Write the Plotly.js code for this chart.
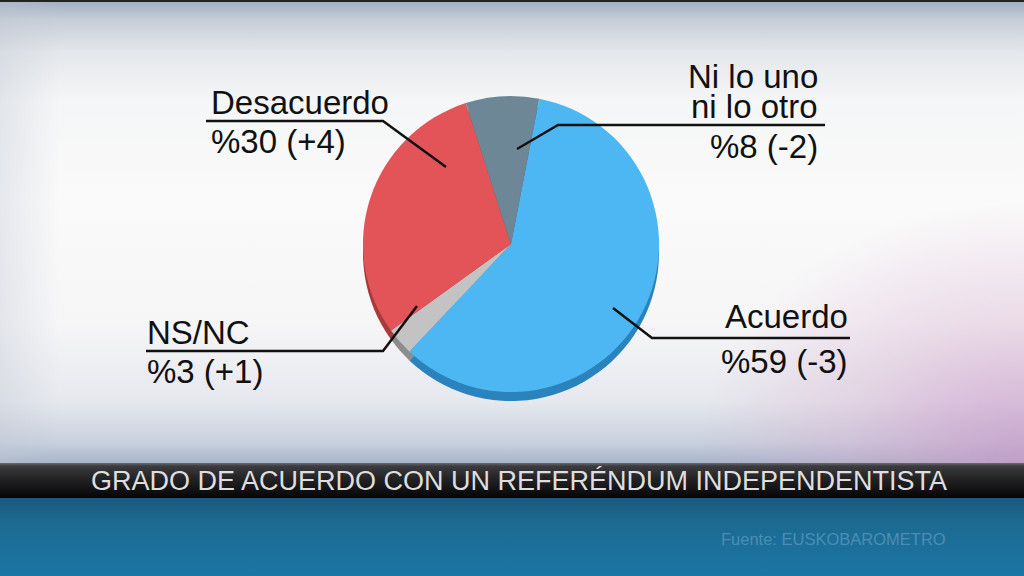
<!DOCTYPE html>
<html><head><meta charset="utf-8">
<script src="https://cdn.plot.ly/plotly-3.0.1.min.js"></script>
<style>
html,body{margin:0;padding:0;width:1024px;height:576px;overflow:hidden;background:#222;}
#wrap{position:relative;width:1024px;height:576px;}
#bgTop{position:absolute;left:0;top:2px;width:1024px;height:461px;
 background:
  radial-gradient(ellipse 330px 260px at 100% 100%, rgba(200,150,200,0.75), rgba(215,170,205,0.35) 55%, rgba(225,190,210,0) 100%),
  linear-gradient(to right, rgba(190,198,210,0.35) 0px, rgba(255,255,255,0) 60px),
  linear-gradient(to bottom,#a3b0c2 0px,#c6ced8 18px,#e4e7eb 50px,#f5f6f7 100px,#fafafa 200px,#f6f6f7 320px,#e6e8ee 400px,#c9d1de 440px,#a7b5ca 461px);}
#bar{position:absolute;left:0;top:463px;width:1024px;height:35px;
 background:linear-gradient(to bottom,#6a6a70 0px,#3c3c40 3px,#262628 14px,#101012 28px,#050505 35px);}
#bgBot{position:absolute;left:0;top:498px;width:1024px;height:78px;
 background:linear-gradient(to bottom,#1b5a7c 0px,#1c6a93 25px,#1b76a3 78px);}
#chart{position:absolute;left:0;top:0;width:1024px;height:576px;}
</style></head>
<body><div id="wrap"><div id="bgTop"></div><div id="bar"></div><div id="bgBot"></div><div id="chart"></div></div>
<script>
// ---- data ----
const labels = ['Acuerdo', 'NS/NC', 'Desacuerdo', 'Ni lo uno ni lo otro'];
const values = [59, 3, 30, 8];
const changes = ['-3', '+1', '+4', '-2'];
const colors = ['#4db7f4', '#c3c3c3', '#e25457', '#6e8797'];
const sideColors = ['#2a83bd', '#8c8c8c', '#a83a3c', '#4c606e'];
const titleText = 'GRADO DE ACUERDO CON UN REFERÉNDUM INDEPENDENTISTA';
const sourceText = 'Fuente: EUSKOBAROMETRO';

// ---- helpers (pixel -> paper) ----
const W = 1024, H = 576;
const px = x => x / W;
const py = y => 1 - y / H;
const valText = i => '%' + values[i] + ' (' + changes[i] + ')';

const cx = 511, cy = 244, d = 296;
function dom(offY) {
  return {x: [px(cx - d / 2), px(cx + d / 2)], y: [py(cy + offY + d / 2), py(cy + offY - d / 2)]};
}

const common = {type: 'pie', labels: labels, values: values, sort: false, direction: 'clockwise',
  rotation: 11, textinfo: 'none', hoverinfo: 'skip', showlegend: false};

const traces = [
  Object.assign({}, common, {domain: dom(9), marker: {colors: sideColors, line: {width: 0}}}),
  Object.assign({}, common, {domain: dom(0), marker: {colors: colors, line: {width: 0}}})
];

const F = 'Liberation Sans, Arial, sans-serif';
const fs = 33;
function ann(text, x, baseline, anchor, h) {
  const a = {text: text, x: px(x), y: py(baseline - 0.33 * fs), xref: 'paper', yref: 'paper',
    xanchor: anchor, yanchor: 'middle', showarrow: false, font: {family: F, size: fs, color: '#111'}};
  if (h) a.height = h;
  return a;
}
const annotations = [
  ann(labels[2], 209, 113, 'left'),
  ann(valText(2), 209, 152, 'left'),
  ann('Ni lo uno', 820, 87, 'right', 29),
  ann('ni lo otro', 820, 117, 'right', 29),
  ann(valText(3), 820, 157, 'right'),
  ann(labels[1], 145, 343, 'left'),
  ann(valText(1), 145, 382, 'left'),
  ann(labels[0], 850, 327, 'right'),
  ann(valText(0), 850, 372, 'right'),
  {text: titleText, x: px(519), y: py(481), xref: 'paper', yref: 'paper', xanchor: 'center', yanchor: 'middle',
   showarrow: false, font: {family: F, size: 27, color: '#dedede'}},
  {text: sourceText, x: px(948), y: py(539), xref: 'paper', yref: 'paper', xanchor: 'right', yanchor: 'middle',
   showarrow: false, font: {family: F, size: 16.5, color: '#4b8db3'}}
];

function path(pts) {
  return {type: 'path', xref: 'paper', yref: 'paper',
    path: pts.map((p, i) => (i ? 'L ' : 'M ') + px(p[0]) + ' ' + py(p[1])).join(' '),
    line: {color: '#111', width: 2.5}};
}
const shapes = [
  path([[206, 121], [383, 121], [446, 167]]),
  path([[825, 125], [558, 125], [517, 149]]),
  path([[146, 351], [383, 351], [417, 306]]),
  path([[850, 338], [652, 338], [613, 308]])
];

const layout = {width: W, height: H, margin: {l: 0, r: 0, t: 0, b: 0},
  paper_bgcolor: 'rgba(0,0,0,0)', plot_bgcolor: 'rgba(0,0,0,0)',
  annotations: annotations, shapes: shapes};

Plotly.newPlot('chart', traces, layout, {staticPlot: true, displayModeBar: false});
</script></body></html>
